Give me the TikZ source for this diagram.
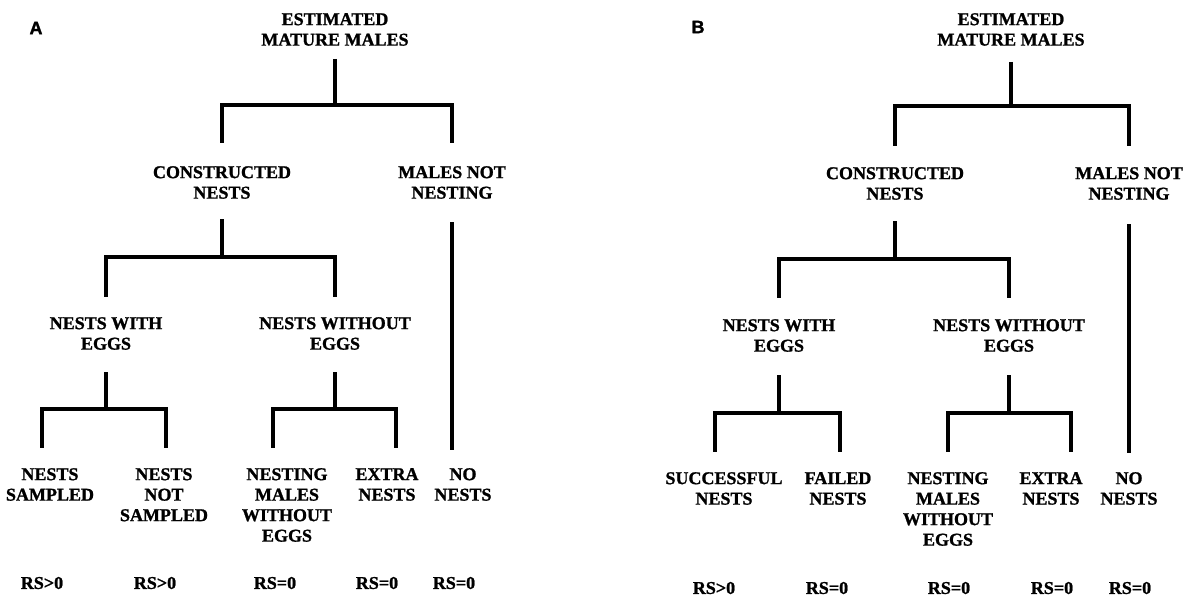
\documentclass[tikz,border=0pt]{standalone}
\usepackage{fontspec}
\setmainfont{Liberation Serif}[BoldFeatures={FakeBold=1.2}]
\newfontfamily\panelfont{Liberation Sans}[BoldFeatures={FakeBold=1.5}]
\usetikzlibrary{calc}

\begin{document}
\begin{tikzpicture}[x=1pt, y=-1pt,
    box/.style={anchor=north, align=center, inner sep=0pt, font=\bfseries\fontsize{18}{20.5}\selectfont},
    rs/.style={inner sep=0pt, font=\bfseries\fontsize{18}{20.5}\selectfont},
    panel/.style={inner sep=0pt, font=\panelfont\bfseries\fontsize{18}{20}\selectfont},
    tree/.style={line width=3.2pt}]
    \useasboundingbox (0,0) rectangle (1190,598);

    % Panel A: draw nodes
    \node[panel] (labA) at (36,28) {A};
    \node[box] (rootA) at (335,13) {ESTIMATED\\MATURE MALES};
    \node[box] (conA) at (222,166) {CONSTRUCTED\\NESTS};
    \node[box] (mnnA) at (452,166) {MALES NOT\\NESTING};
    \node[box] (nweA) at (106,317) {NESTS WITH\\EGGS};
    \node[box] (nwoeA) at (335,317) {NESTS WITHOUT\\EGGS};
    \node[box] (nsA) at (50,468) {NESTS\\SAMPLED};
    \node[box] (nnsA) at (164,468) {NESTS\\NOT\\SAMPLED};
    \node[box] (nmweA) at (287,468) {NESTING\\MALES\\WITHOUT\\EGGS};
    \node[box] (exA) at (387,468) {EXTRA\\NESTS};
    \node[box] (nonA) at (463,468) {NO\\NESTS};
    \node[rs] (rsA1) at (42,583) {RS>0};
    \node[rs] (rsA2) at (155,583) {RS>0};
    \node[rs] (rsA3) at (275,583) {RS=0};
    \node[rs] (rsA4) at (377,583) {RS=0};
    \node[rs] (rsA5) at (454,583) {RS=0};

    % Panel A: draw connections
    \draw[tree, shorten <=13pt, shorten >=23pt] (rootA.south) -- ++(0,59) -| (conA.north);
    \draw[tree, shorten >=23pt] (rootA.south) ++(0,59) -| (mnnA.north);
    \draw[tree, shorten <=20pt, shorten >=20pt] (conA.south) -- ++(0,58) -| (nweA.north);
    \draw[tree, shorten >=20pt] (conA.south) ++(0,58) -| (nwoeA.north);
    \draw[tree, shorten <=23pt, shorten >=18pt] (mnnA.south) -- (mnnA.south |- nonA.north);
    \draw[tree, shorten <=22pt, shorten >=20pt] (nweA.south) -- ++(0,59) -| ([xshift=-8pt]nsA.north);
    \draw[tree, shorten >=20pt] (nweA.south) ++(0,59) -| ([xshift=2pt]nnsA.north);
    \draw[tree, shorten <=22pt, shorten >=20pt] (nwoeA.south) -- ++(0,59) -| ([xshift=-14pt]nmweA.north);
    \draw[tree, shorten >=20pt] (nwoeA.south) ++(0,59) -| ([xshift=9pt]exA.north);

    % Panel B: draw nodes
    \node[panel] (labB) at (698,27) {B};
    \node[box] (rootB) at (1011,13) {ESTIMATED\\MATURE MALES};
    \node[box] (conB) at (895,167) {CONSTRUCTED\\NESTS};
    \node[box] (mnnB) at (1129,167) {MALES NOT\\NESTING};
    \node[box] (nweB) at (779,319) {NESTS WITH\\EGGS};
    \node[box] (nwoeB) at (1009,319) {NESTS WITHOUT\\EGGS};
    \node[box] (sucB) at (724,472) {SUCCESSFUL\\NESTS};
    \node[box] (failB) at (838,472) {FAILED\\NESTS};
    \node[box] (nmweB) at (948,472) {NESTING\\MALES\\WITHOUT\\EGGS};
    \node[box] (exB) at (1051,472) {EXTRA\\NESTS};
    \node[box] (nonB) at (1129,472) {NO\\NESTS};
    \node[rs] (rsB1) at (714,588) {RS>0};
    \node[rs] (rsB2) at (827,588) {RS=0};
    \node[rs] (rsB3) at (949,588) {RS=0};
    \node[rs] (rsB4) at (1052,588) {RS=0};
    \node[rs] (rsB5) at (1130,588) {RS=0};

    % Panel B: draw connections
    \draw[tree, shorten <=16pt, shorten >=21pt] (rootB.south) -- ++(0,60) -| (conB.north);
    \draw[tree, shorten >=21pt] (rootB.south) ++(0,60) -| (mnnB.north);
    \draw[tree, shorten <=21pt, shorten >=21pt] (conB.south) -- ++(0,59) -| (nweB.north);
    \draw[tree, shorten >=21pt] (conB.south) ++(0,59) -| (nwoeB.north);
    \draw[tree, shorten <=24pt, shorten >=19pt] (mnnB.south) -- (mnnB.south |- nonB.north);
    \draw[tree, shorten <=23pt, shorten >=20pt] (nweB.south) -- ++(0,61) -| ([xshift=-9pt]sucB.north);
    \draw[tree, shorten >=20pt] (nweB.south) ++(0,61) -| ([xshift=2pt]failB.north);
    \draw[tree, shorten <=23pt, shorten >=20pt] (nwoeB.south) -- ++(0,61) -| (nmweB.north);
    \draw[tree, shorten >=20pt] (nwoeB.south) ++(0,61) -| ([xshift=20pt]exB.north);
\end{tikzpicture}
\end{document}
